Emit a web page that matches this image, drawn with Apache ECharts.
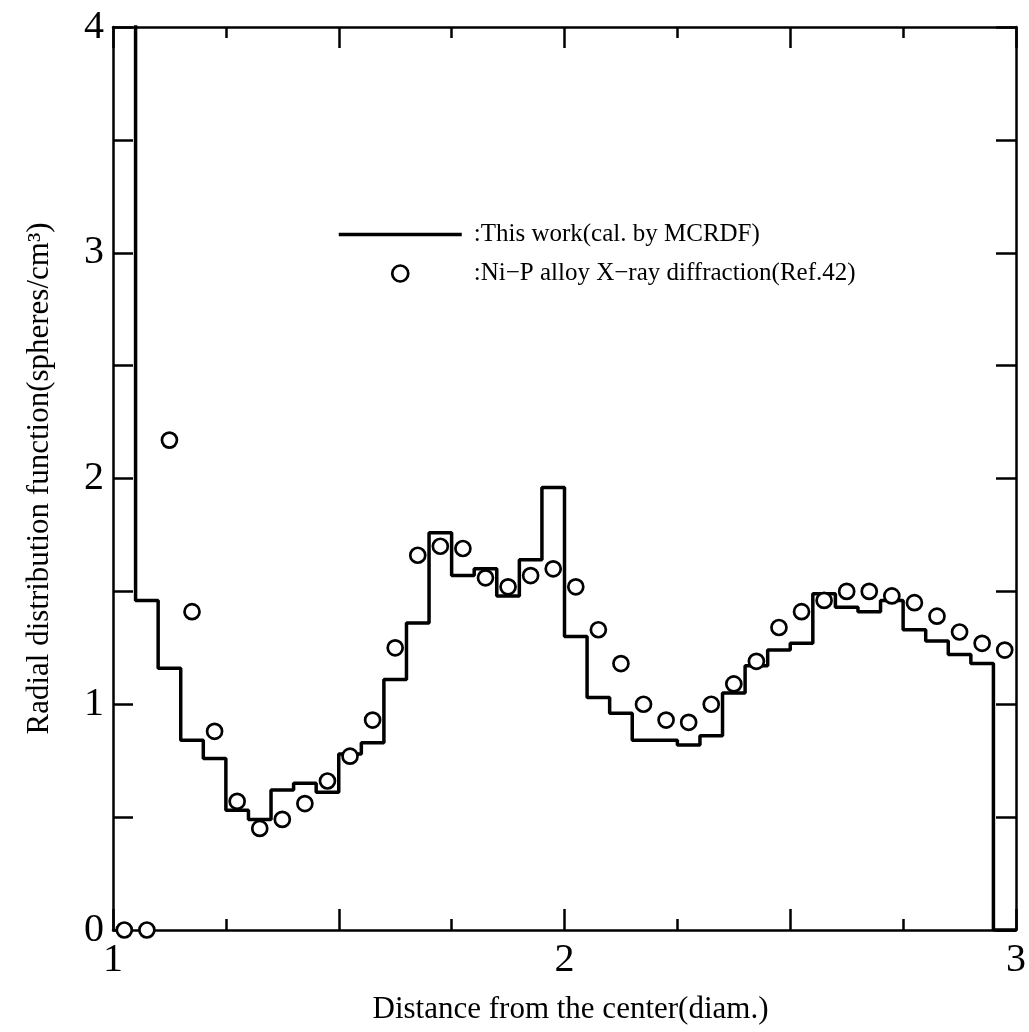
<!DOCTYPE html>
<html>
<head>
<meta charset="utf-8">
<title>Radial distribution function</title>
<script src="https://cdn.jsdelivr.net/npm/echarts@6/dist/echarts.min.js"></script>
<style>
	html,body{margin:0;padding:0;background:#fff;}
	#main{width:1029px;height:1032px;}
</style>
</head>
<body>
<div id="main"></div>
<script>
	// histogram bins of the calculation (left edge, diam.) - last edge closes the chart
	var binEdges = [1.00,1.05,1.10,1.15,1.20,1.25,1.30,1.35,1.40,1.45,
		1.50,1.55,1.60,1.65,1.70,1.75,1.80,1.85,1.90,1.95,
		2.00,2.05,2.10,2.15,2.20,2.25,2.30,2.35,2.40,2.45,
		2.50,2.55,2.60,2.65,2.70,2.75,2.80,2.85,2.90,2.95,3.00];
	// first bin runs off the top of the chart
	var calValues = [5.00,1.46,1.16,0.84,0.76,0.53,0.49,0.62,0.65,0.61,
		0.78,0.83,1.11,1.36,1.76,1.57,1.60,1.48,1.64,1.96,
		1.30,1.03,0.96,0.84,0.84,0.82,0.86,1.05,1.17,1.24,
		1.27,1.49,1.43,1.41,1.46,1.33,1.28,1.22,1.18,0.00,0.00];

	// Ni-P alloy X-ray diffraction points
	var exptX = [1.025,1.075,1.125,1.175,1.225,1.275,1.325,1.375,1.425,1.475,
		1.525,1.575,1.625,1.675,1.725,1.775,1.825,1.875,1.925,1.975,
		2.025,2.075,2.125,2.175,2.225,2.275,2.325,2.375,2.425,2.475,
		2.525,2.575,2.625,2.675,2.725,2.775,2.825,2.875,2.925,2.975];
	var exptY = [0.00,0.00,2.17,1.41,0.88,0.57,0.45,0.49,0.56,0.66,
		0.77,0.93,1.25,1.66,1.70,1.69,1.56,1.52,1.57,1.60,
		1.52,1.33,1.18,1.00,0.93,0.92,1.00,1.09,1.19,1.34,
		1.41,1.46,1.50,1.50,1.48,1.45,1.39,1.32,1.27,1.24];

	var calName = ':This work(cal. by MCRDF)';
	var exptName = ':Ni\u2212P alloy X\u2212ray diffraction(Ref.42)';

	var serif = "'Liberation Serif','Times New Roman',serif";

	var stepData = [];
	for (var i = 0; i < binEdges.length; i++) {
		stepData.push([binEdges[i], calValues[i]]);
	}
	var pointData = [];
	for (var j = 0; j < exptX.length; j++) {
		pointData.push([exptX[j], exptY[j]]);
	}

	function xAxisOf(pos, showLabel) {
		return {
			type: 'value', position: pos, min: 1, max: 3, interval: 0.5,
			axisLine: {show: true, onZero: false, lineStyle: {color: '#000', width: 2.5}},
			axisTick: {show: true, inside: true, length: 21, lineStyle: {color: '#000', width: 2.5}},
			minorTick: {show: true, splitNumber: 2, length: 11, lineStyle: {color: '#000', width: 2.5}},
			splitLine: {show: false},
			axisLabel: {
				show: showLabel, margin: 10, color: '#000', fontSize: 40, fontFamily: serif,
				formatter: function (v) { return v % 1 === 0 ? String(v) : ''; }
			}
		};
	}
	function yAxisOf(pos, showLabel) {
		return {
			type: 'value', position: pos, min: 0, max: 4, interval: 0.5,
			axisLine: {show: true, onZero: false, lineStyle: {color: '#000', width: 2.5}},
			axisTick: {show: true, inside: true, length: 20, lineStyle: {color: '#000', width: 2.5}},
			splitLine: {show: false},
			axisLabel: {
				show: showLabel, margin: 9, color: '#000', fontSize: 40, fontFamily: serif,
				formatter: function (v) { return v % 1 === 0 ? String(v) : ''; }
			}
		};
	}

	var xBottom = xAxisOf('bottom', true);
	xBottom.name = 'Distance from the center(diam.)';
	xBottom.nameLocation = 'middle';
	xBottom.nameGap = 64;
	xBottom.nameTextStyle = {color: '#000', fontSize: 31, fontFamily: serif, padding: [0, 0, 0, 12]};

	var yLeft = yAxisOf('left', true);
	yLeft.name = 'Radial distribution function(spheres/cm\u00b3)';
	yLeft.nameLocation = 'middle';
	yLeft.nameGap = 58;
	yLeft.nameTextStyle = {color: '#000', fontSize: 31, fontFamily: serif};

	var myChart = echarts.init(document.getElementById('main'));
	var option = {
		animation: false,
		backgroundColor: '#fff',
		grid: {left: 113, right: 12, top: 27, bottom: 102},
		legend: {
			orient: 'vertical', left: 332, top: 217,
			itemWidth: 123, itemHeight: 16, itemGap: 14,
			textStyle: {color: '#000', fontSize: 25, fontFamily: serif, padding: [0, 0, 0, 7]},
			lineStyle: {width: 3.5},
			itemStyle: {borderWidth: 2.7},
			data: [
				// hide the dot that a line legend gets by default
				{name: calName, itemStyle: {color: 'rgba(0,0,0,0)', borderWidth: 0, opacity: 0}},
				{name: exptName}
			]
		},
		xAxis: [xBottom, xAxisOf('top', false)],
		yAxis: [yLeft, yAxisOf('right', false)],
		series: [
			{
				name: calName,
				type: 'line',
				step: 'end',
				data: stepData,
				symbol: 'none',
				clip: true,
				z: 2,
				itemStyle: {color: '#000'},
				lineStyle: {color: '#000', width: 3.5}
			},
			{
				name: exptName,
				type: 'scatter',
				data: pointData,
				symbol: 'circle',
				symbolSize: 15,
				z: 3,
				itemStyle: {color: '#fff', borderColor: '#000', borderWidth: 2.7, opacity: 1}
			}
		]
	};
	myChart.setOption(option);
</script>
</body>
</html>
